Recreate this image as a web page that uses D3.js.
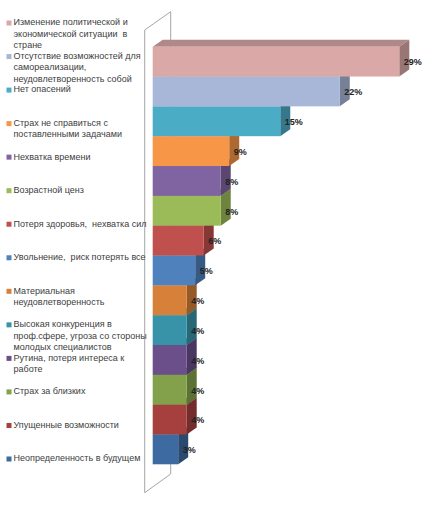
<!DOCTYPE html>
<html>
<head>
<meta charset="utf-8">
<script src="https://d3js.org/d3.v7.min.js"></script>
<style>
  body { margin: 0; background: #fff; }
  text { font-family: "Liberation Sans", Arial, sans-serif; white-space: pre; }
</style>
</head>
<body>
<script>
  var width = 424;
  var height = 513;

  // categories (legend lines) top to bottom
  var labels = [
    ["Изменение политической и", "экономической ситуации  в", "стране"],
    ["Отсутствие возможностей для", "самореализации,", "неудовлетворенность собой"],
    ["Нет опасений"],
    ["Страх не справиться с", "поставленными задачами"],
    ["Нехватка времени"],
    ["Возрастной ценз"],
    ["Потеря здоровья,  нехватка сил"],
    ["Увольнение,  риск потерять все"],
    ["Материальная", "неудовлетворенность"],
    ["Высокая конкуренция в", "проф.сфере, угроза со стороны", "молодых специалистов"],
    ["Рутина, потеря интереса к", "работе"],
    ["Страх за близких"],
    ["Упущенные возможности"],
    ["Неопределенность в будущем"]
  ];
  var values = [29, 22, 15, 9, 8, 8, 6, 5, 4, 4, 4, 4, 4, 3];
  var colors = ["#DAA9A7", "#A8B7D8", "#4BACC6", "#F79646", "#8064A2", "#9BBB59", "#C0504D",
                "#4F81BD", "#D6803A", "#3893A8", "#6A4F8B", "#83A14A", "#A5403E", "#3D6AA0"];

  var idx = d3.range(values.length);

  var svg = d3.select("body").append("svg")
    .attr("width", width)
    .attr("height", height);

  var x = d3.scaleLinear().domain([0, 29]).range([152.7, 399.3]);
  var y = d3.scaleBand().domain(idx).range([46.7, 464.3]).padding(0);
  var ly = d3.scalePoint().domain(idx).range([23, 459]);

  var dx = 10, dy = -7;

  // back wall frame
  var wall = [[144.7, 492.7], [144.7, 30], [170.7, 11.7], [170.7, 474], [144.7, 492.7]];
  svg.append("path")
    .attr("d", d3.line()(wall))
    .attr("fill", "none")
    .attr("stroke", "#a6a6a6")
    .attr("stroke-width", 1);

  // bars, bottom first so upper bars overlap
  var bars = svg.selectAll("g.bar").data(idx.slice().reverse()).enter()
    .append("g").attr("class", "bar");

  bars.append("path")
    .attr("d", function(i) {
      var x0 = x(0), x1 = x(values[i]), t = y(i);
      return d3.line()([[x0, t], [x0 + dx, t + dy], [x1 + dx, t + dy], [x1, t]]) + "Z";
    })
    .attr("fill", function(i) { return d3.color(colors[i]).darker(0.6); });

  bars.append("path")
    .attr("d", function(i) {
      var x1 = x(values[i]), t = y(i), b = y(i) + y.bandwidth();
      return d3.line()([[x1, t], [x1 + dx, t + dy], [x1 + dx, b + dy], [x1, b]]) + "Z";
    })
    .attr("fill", function(i) { return d3.color(colors[i]).darker(1); });

  bars.append("rect")
    .attr("x", x(0))
    .attr("y", function(i) { return y(i); })
    .attr("width", function(i) { return x(values[i]) - x(0); })
    .attr("height", y.bandwidth())
    .attr("fill", function(i) { return colors[i]; });

  bars.append("text")
    .attr("x", function(i) { return x(values[i]) + 4.5; })
    .attr("y", function(i) { return y(i) + y.bandwidth() / 2 + 1.5; })
    .attr("dominant-baseline", "middle")
    .attr("font-size", "9px")
    .attr("font-weight", "bold")
    .attr("fill", "#222")
    .text(function(i) { return values[i] + "%"; });

  // legend
  var leg = svg.selectAll("g.leg").data(idx).enter()
    .append("g").attr("class", "leg")
    .attr("transform", function(i) { return "translate(0," + ly(i) + ")"; });

  leg.append("rect")
    .attr("x", 6.5).attr("y", -2.5)
    .attr("width", 5).attr("height", 5)
    .attr("fill", function(i) { return colors[i]; });

  leg.append("text")
    .attr("x", 13.5)
    .attr("font-size", "9px")
    .attr("fill", "#404040")
    .selectAll("tspan").data(function(i) { return labels[i]; }).enter()
    .append("tspan")
    .attr("x", 13.5)
    .attr("y", function(d, k) { return k * 11.5; })
    .attr("dominant-baseline", "middle")
    .text(function(d) { return d; });
</script>
</body>
</html>
